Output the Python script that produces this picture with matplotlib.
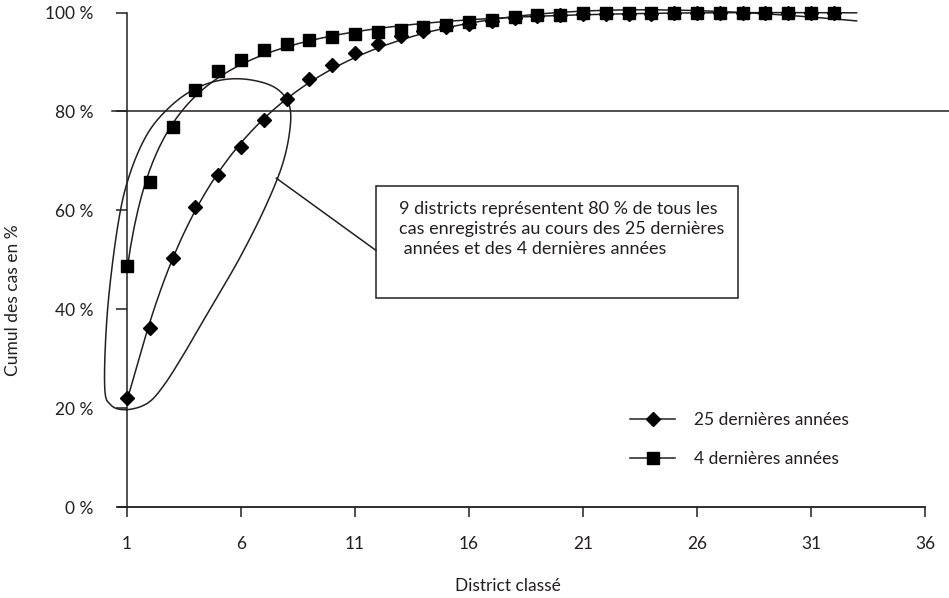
import numpy as np
import matplotlib
matplotlib.use("Agg")
import matplotlib.pyplot as plt
from matplotlib.patches import Rectangle
from matplotlib.lines import Line2D

plt.rcParams["font.family"] = ["Lato", "DejaVu Sans"]
encre = "#231f20"

# données : rang du district et cumul des cas (%)
districts = np.arange(1, 33)
cumul_25ans = [22.1, 36.3, 50.3, 60.6, 67.1, 72.9, 78.2, 82.6, 86.5, 89.4,
               91.8, 93.6, 95.2, 96.2, 97.0, 97.7, 98.3, 98.8, 99.2, 99.5,
               99.6, 99.7, 99.8, 99.8, 99.9, 99.9, 99.9, 100, 100, 100, 100, 100]
cumul_4ans = [48.8, 65.7, 76.8, 84.3, 88.1, 90.4, 92.4, 93.6, 94.4, 95.0,
              95.6, 96.0, 96.5, 97.1, 97.5, 98.1, 98.5, 99.1, 99.5, 99.5,
              99.9, 99.9, 100, 100, 100, 100, 100, 100, 100, 100, 100, 100]
graduations_x = [1, 6, 11, 16, 21, 26, 31, 36]
graduations_y = [0, 20, 40, 60, 80, 100]
etiquettes_y = ["0 %", "20 %", "40 %", "60 %", "80 %", "100 %"]
series = ["25 dernières années", "4 dernières années"]
texte_encadre = ("9 districts représentent 80 % de tous les\n"
                 "cas enregistrés au cours des 25 dernières\n"
                 " années et des 4 dernières années")

# contour à main levée autour des 9 premiers districts
contour_x = [1.0, 0.3, 0.02, 0.15, 0.6, 1.1, 1.9, 2.9, 4.0, 5.2, 6.4, 7.5,
             8.1, 8.15, 7.8, 7.0, 5.9, 4.7, 3.5, 2.6, 1.9]
contour_y = [19.7, 20.6, 24.5, 40.0, 57.0, 67.0, 75.5, 81.0, 84.6, 86.4, 86.4, 84.8,
             81.5, 76.5, 69.0, 60.0, 50.0, 40.5, 31.0, 24.5, 21.0]


def courbe_tendance(x, y, x_fin):
    """ ajustement polynomial sur log(x) """
    coef = np.polyfit(np.log(x), y, 3)
    xs = np.linspace(1, x_fin, 200)
    return xs, np.polyval(coef, np.log(xs))


def boucle_fermee(px, py, n=20):
    """ spline de Catmull-Rom fermée """
    pts = np.column_stack([px, py])
    m = len(pts)
    out = []
    for i in range(m):
        p0, p1, p2, p3 = pts[i - 1], pts[i], pts[(i + 1) % m], pts[(i + 2) % m]
        for t in np.linspace(0, 1, n, endpoint=False):
            t2, t3 = t * t, t * t * t
            out.append(0.5 * ((2 * p1) + (-p0 + p2) * t
                              + (2 * p0 - 5 * p1 + 4 * p2 - p3) * t2
                              + (-p0 + 3 * p1 - 3 * p2 + p3) * t3))
    out.append(out[0])
    out = np.array(out)
    return out[:, 0], out[:, 1]


fig = plt.figure(figsize=(9.49, 5.98), dpi=100)
ax = fig.add_axes([0.1242, 0.1521, 0.8649, 0.8435])
ax.set_xlim(0.6, 36.6)
ax.set_ylim(0, 102)

# courbes de tendance
for y in (cumul_25ans, cumul_4ans):
    xs, ys = courbe_tendance(districts, y, 33)
    ax.plot(xs, ys, color=encre, lw=1.1, zorder=2)

ax.plot(districts, cumul_25ans, ls="none", marker="D", ms=7, color="black", zorder=3)
ax.plot(districts, cumul_4ans, ls="none", marker="s", ms=8.5, color="black", zorder=3)

# ligne des 80 %
ax.plot([0.35, 37.2], [80, 80], color=encre, lw=1.1, clip_on=False)

# contour
cx, cy = boucle_fermee(contour_x, contour_y)
ax.plot(cx, cy, color=encre, lw=1.1, clip_on=False)

# encadré
ax.add_patch(Rectangle((11.92, 42.35), 27.8 - 11.92, 65.0 - 42.35,
                       fill=False, edgecolor=encre, lw=1.1))
ax.plot([7.55, 11.92], [66.5, 51.9], color=encre, lw=1.1)
ax.text(12.95, 61.9, texte_encadre, fontsize=13, color=encre,
        va="top", ha="left", linespacing=1.3)

# axes
for cote in ("top", "right"):
    ax.spines[cote].set_visible(False)
ax.spines["left"].set_position(("data", 1))
ax.spines["left"].set_bounds(0, 100)
ax.spines["bottom"].set_bounds(0.6, 36)
ax.spines["left"].set_color(encre)
ax.spines["bottom"].set_color(encre)
ax.spines["left"].set_linewidth(1.1)
ax.spines["bottom"].set_linewidth(1.3)
ax.set_xticks(graduations_x)
ax.set_yticks(graduations_y)
ax.set_yticklabels(etiquettes_y)
ax.tick_params(axis="x", direction="out", length=7, width=1.1, pad=14,
               labelsize=12.5, colors=encre)
ax.tick_params(axis="y", direction="out", length=8, width=1.1, pad=16,
               labelsize=12.5, colors=encre)

fig.text(13 / 949, 1 - 300 / 598, "Cumul des cas en %", rotation=90,
         ha="center", va="center", fontsize=12.5, color=encre)
fig.text(508 / 949, 1 - 586 / 598, "District classé",
         ha="center", va="center", fontsize=12.5, color=encre)

# légende
poignees = [Line2D([], [], color=encre, lw=1.1, marker="D", ms=7, mfc="black", mec="black"),
            Line2D([], [], color=encre, lw=1.1, marker="s", ms=8.5, mfc="black", mec="black")]
leg = fig.legend(poignees, series, loc="upper left",
                 bbox_to_anchor=(630 / 949, 1 - 412 / 598),
                 frameon=False, fontsize=12.5, handlelength=2.6,
                 handletextpad=1.1, labelspacing=1.35, borderpad=0, borderaxespad=0)
for t in leg.get_texts():
    t.set_color(encre)

fig.savefig("out.png", dpi=100)
